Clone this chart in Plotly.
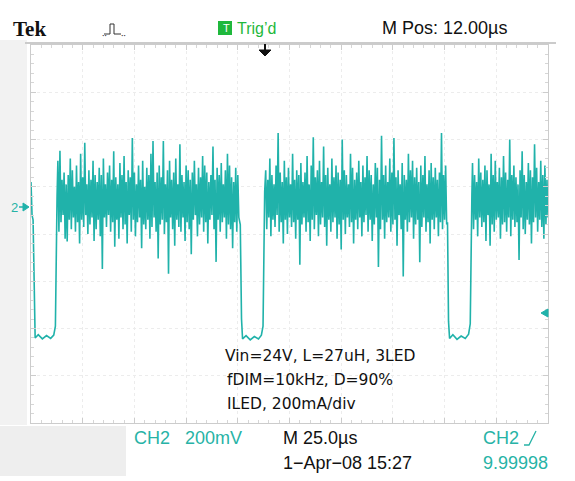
import plotly.graph_objects as go

# ---------------- figure geometry (pixels) ----------------
W, H = 575, 481
ML, MR, MT, MB = 31, 27, 45, 58
PW = W - ML - MR
PH = H - MT - MB


def px(x):
    return (x - ML) / PW


def py(y):
    return (H - MB - y) / PH


TIME_PER_DIV_US = 25.0
SAMPLE_STEP_US = 0.5
x_range_us = [0.0, 250.0]
y_range_div = [-4.0, 4.0]

# current trace in divisions (200 mA/div)
lead_t = [0.0, 0.5]
lead_v = [1.10, 0.40]

off1_t = [1.0, 1.6, 2.0, 3.5, 5.5, 7.5, 9.5, 11.0, 11.8, 12.6]
off1_v = [0.30, -1.85, -2.20, -2.13, -2.22, -2.15, -2.21, -2.14, -1.95, 0.80]

off2_t = [101.2, 101.8, 102.3, 104.0, 106.0, 108.0, 110.0, 111.4, 112.2, 113.0]
off2_v = [0.20, -1.80, -2.22, -2.15, -2.24, -2.17, -2.22, -2.14, -1.95, 0.90]

off3_t = [201.4, 201.9, 202.4, 204.0, 206.0, 208.0, 210.0, 211.6, 212.4, 213.2]
off3_v = [0.25, -1.85, -2.21, -2.13, -2.23, -2.16, -2.21, -2.12, -1.90, 0.85]

burst_start_us = [13.0, 113.5, 213.5]

burst1 = [
    1.55, 0.05, 1.76, 0.25, 1.15, 0.40, 1.30, -0.10, 1.05, -0.16,
    1.25, 0.30, 1.60, 0.10, 1.35, 0.35, 1.00, 0.05, 1.45, 0.25,
    1.10, -0.20, 1.70, 0.30, 1.20, 0.15, 1.93, 0.40, 1.05, 0.00,
    1.35, 0.20, 1.15, 0.35, 1.55, -0.15, 1.25, 0.10, 1.10, 0.30,
    1.40, -0.05, 1.25, -0.74, 1.60, 0.35, 1.05, 0.15, 1.30, 0.40,
    1.45, 0.05, 1.15, 0.25, 1.75, -0.27, 1.20, 0.30, 1.05, -0.10,
    1.50, 0.35, 1.25, 0.10, 1.65, 0.20, 1.10, -0.20, 1.35, 0.40,
    1.20, 0.05, 2.03, 0.30, 1.30, -0.05, 1.05, 0.25, 1.45, 0.35,
    1.15, -0.30, 1.55, 0.20, 1.00, 0.10, 1.40, 0.30, 1.25, -0.10,
    1.70, 0.15, 1.97, 0.35, 1.10, 0.05, 1.30, -0.52, 1.45, 0.20,
    1.20, 0.30, 1.97, 0.00, 1.05, 0.25, 1.35, -0.84, 1.55, 0.35,
    1.15, 0.10, 1.30, -0.25, 1.60, 0.30, 1.05, 0.15, 1.90, 0.05,
    1.25, 0.35, 1.10, -0.15, 1.45, 0.25, 1.35, 0.10, 1.15, -0.43,
    1.30, 0.30, 1.55, 0.40, 1.05, -0.05, 1.40, 0.20, 1.20, 0.35,
    1.65, 0.05, 1.45, 0.25, 1.30, -0.20, 1.10, 0.30, 1.25, 0.40,
    1.85, 0.10, 1.15, -0.59, 1.40, 0.30, 1.25, 0.05, 1.50, 0.25,
    1.05, 0.35, 1.35, -0.10, 1.70, 0.20, 1.45, 0.10, 1.20, -0.30,
    1.10, 0.25, 1.40, 0.05, 1.25, 0.35,
]

burst2 = [
    1.35, 0.10, 1.15, 0.35, 1.60, -0.05, 1.25, 0.30, 1.05, 0.15,
    1.45, 0.40, 2.14, 0.05, 1.30, 0.25, 1.10, -0.20, 1.55, 0.30,
    1.20, 0.00, 1.40, 0.35, 1.05, 0.15, 1.70, 0.25, 1.15, -0.10,
    1.35, 0.30, 1.25, -0.65, 1.50, 0.20, 1.10, 0.35, 1.30, 0.05,
    1.65, 0.25, 1.05, -0.15, 1.45, 0.30, 2.05, 0.10, 1.20, 0.40,
    1.35, -0.05, 1.55, 0.20, 1.10, 0.35, 1.85, 0.15, 1.25, -0.25,
    1.40, 0.30, 1.05, 0.05, 1.60, 0.25, 1.20, 0.35, 1.45, -0.10,
    1.30, 0.20, 1.15, -0.33, 2.00, 0.30, 1.35, 0.00, 1.25, 0.35,
    1.05, 0.15, 1.70, 0.25, 1.40, -0.20, 1.15, 0.30, 1.30, 0.10,
    1.55, 0.35, 1.10, -0.05, 1.45, 0.25, 1.20, 0.40, 1.65, 0.05,
    1.35, 0.30, 1.25, -0.15, 1.05, 0.20, 1.50, 0.35, 1.40, -0.70,
    1.15, 0.10, 2.08, 0.30, 1.25, -0.10, 1.45, 0.25, 1.10, 0.35,
    1.60, 0.05, 1.30, 0.20, 2.03, 0.30, 1.20, -0.25, 1.35, 0.40,
    1.05, 0.10, 1.50, -0.90, 1.25, 0.30, 1.15, 0.05, 1.70, 0.25,
    1.35, 0.35, 1.55, -0.10, 1.20, 0.20, 1.40, 0.30, 1.10, -0.60,
    1.45, 0.15, 1.25, 0.35, 1.65, 0.05, 1.05, 0.25, 1.35, -0.20,
    1.50, 0.30, 1.20, 0.10, 1.40, 0.35, 1.15, -0.05, 1.30, 0.25,
    2.14, 0.10, 1.25, 0.30, 1.45, 0.20,
]

burst3 = [
    1.50, 0.10, 1.25, 0.30, 1.10, -0.05, 1.60, 0.35, 1.30, 0.15,
    1.15, 0.25, 1.45, -0.15, 1.35, 0.40, 1.05, -0.25, 1.70, 0.20,
    1.25, 0.05, 1.55, 0.30, 1.10, 0.35, 1.40, -0.10, 1.20, 0.20,
    1.65, 0.25, 1.30, 0.05, 1.15, 0.35, 2.00, -0.05, 1.25, 0.30,
    1.45, 0.15, 1.20, 0.25, 1.05, -0.55, 1.35, 0.35, 1.75, 0.10,
    1.25, 0.00, 1.10, 0.30, 1.50, 0.20, 1.35, -0.20, 1.20, 0.25,
    1.90, 0.35, 1.40, 0.05, 1.10, 0.30, 1.55, 0.15, 1.25, -0.10,
    1.45, 0.20, 1.15, 0.35,
]

# text
header_left = "Tek"
trig_text = "Trig\u2019d"
mpos_text = "M Pos: 12.00\u00b5s"
note_lines = ["Vin=24V, L=27uH, 3LED", "fDIM=10kHz, D=90%", "ILED, 200mA/div"]
ch_scale_text = "CH2\u00a0\u00a0\u00a0200mV"
timebase_text = "M 25.0\u00b5s"
trig_src_text = "CH2"
date_text = "1\u2212Apr\u221208 15:27"
freq_text = "9.99998"

TEAL = "#20b2aa"
TEAL_TXT = "#27b3a6"
GREEN = "#1fb83c"
SCOPE_FONT = "Liberation Sans, Arial, sans-serif"
NOTE_FONT = "DejaVu Sans, Verdana, sans-serif"


def burst_times(start, values):
    return [start + i * SAMPLE_STEP_US for i in range(len(values))]


t_all = (lead_t + off1_t + burst_times(burst_start_us[0], burst1)
         + off2_t + burst_times(burst_start_us[1], burst2)
         + off3_t + burst_times(burst_start_us[2], burst3))
v_all = lead_v + off1_v + burst1 + off2_v + burst2 + off3_v + burst3

fig = go.Figure()
fig.add_trace(go.Scatter(
    x=t_all, y=v_all, mode="lines",
    line=dict(color=TEAL, width=1.6),
    hoverinfo="skip", showlegend=False,
))

axis_common = dict(
    showticklabels=False, zeroline=False, showgrid=True,
    gridcolor="#ececec", griddash="dot", gridwidth=1,
    showline=True, linecolor="#cccccc", linewidth=1, mirror="ticks",
    ticks="inside", ticklen=5, tickcolor="#cccccc",
    fixedrange=True,
)
fig.update_xaxes(range=x_range_us, dtick=TIME_PER_DIV_US, tick0=0,
                 minor=dict(ticks="inside", dtick=TIME_PER_DIV_US / 5,
                            ticklen=3, tickcolor="#d6d6d6", showgrid=False),
                 **axis_common)
fig.update_yaxes(range=y_range_div, dtick=1, tick0=0,
                 minor=dict(ticks="inside", dtick=0.2, ticklen=3,
                            tickcolor="#d6d6d6", showgrid=False),
                 **axis_common)

shapes = []
# light grey surround of the screen photo
shapes.append(dict(type="rect", xref="paper", yref="paper",
                   x0=px(0), x1=px(27), y0=py(425), y1=py(40),
                   fillcolor="#f2f2f2", line_width=0, layer="below"))
shapes.append(dict(type="rect", xref="paper", yref="paper",
                   x0=px(0), x1=px(126), y0=py(476), y1=py(426),
                   fillcolor="#eeeeee", line_width=0, layer="below"))
# header underline
shapes.append(dict(type="line", xref="paper", yref="paper",
                   x0=px(25), x1=px(556), y0=py(43), y1=py(43),
                   line=dict(color="#cbcbcb", width=2)))
# pulse icon
shapes.append(dict(type="path", xref="paper", yref="paper",
                   path=(f"M {px(104)},{py(34)} L {px(110)},{py(34)} L {px(110)},{py(24)} "
                         f"L {px(114)},{py(24)} L {px(114)},{py(34)} L {px(121)},{py(34)}"),
                   line=dict(color="#333333", width=1)))
# green trigger box
shapes.append(dict(type="rect", xref="paper", yref="paper",
                   x0=px(218), x1=px(232), y0=py(35), y1=py(21),
                   fillcolor=GREEN, line_width=0))
# trigger position arrow
shapes.append(dict(type="path", xref="paper", yref="paper",
                   path=(f"M {px(259)},{py(50)} L {px(271)},{py(50)} L {px(265)},{py(56)} Z"),
                   fillcolor="#111111", line=dict(color="#111111", width=1)))
shapes.append(dict(type="line", xref="paper", yref="paper",
                   x0=px(265), x1=px(265), y0=py(44), y1=py(52),
                   line=dict(color="#111111", width=2)))
# ground marker arrow (left) and trigger level arrow (right)
shapes.append(dict(type="path", xref="paper", yref="paper",
                   path=f"M {px(23)},{py(203)} L {px(29)},{py(207)} L {px(23)},{py(211)} Z",
                   fillcolor=TEAL, line=dict(color=TEAL, width=1)))
shapes.append(dict(type="line", xref="paper", yref="paper",
                   x0=px(19), x1=px(26), y0=py(207), y1=py(207),
                   line=dict(color=TEAL, width=1.5)))
shapes.append(dict(type="path", xref="paper", yref="paper",
                   path=f"M {px(548)},{py(309)} L {px(541)},{py(313)} L {px(548)},{py(317)} Z",
                   fillcolor=TEAL, line=dict(color=TEAL, width=1)))
# rising-edge icon next to trigger source
shapes.append(dict(type="path", xref="paper", yref="paper",
                   path=f"M {px(524)},{py(445)} L {px(529)},{py(445)} L {px(536)},{py(431)}",
                   line=dict(color=TEAL_TXT, width=1.3)))
fig.update_layout(shapes=shapes)

ann = []


def text(x, y, s, size, color="#111111", family=SCOPE_FONT, xanchor="left"):
    ann.append(dict(x=px(x), y=py(y), xref="paper", yref="paper", text=s,
                    showarrow=False, xanchor=xanchor, yanchor="middle",
                    font=dict(size=size, color=color, family=family)))


text(11, 29, f"<b>{header_left}</b>", 21, "#111111",
     "Liberation Serif, DejaVu Serif, serif")
text(100, 33, "\u2025", 9, "#333333")
text(119, 33, "\u2025", 9, "#333333")
text(220.5, 28, "T", 11, "#ffffff", "Liberation Sans, sans-serif")
text(235, 28, trig_text, 16, GREEN)
text(380, 28, mpos_text, 18, "#111111")
text(9, 208, "2", 13, TEAL_TXT)
text(223, 356, note_lines[0], 15.5, "#111111", NOTE_FONT)
text(225, 380, note_lines[1], 15.5, "#111111", NOTE_FONT)
text(225, 404, note_lines[2], 15.5, "#111111", NOTE_FONT)
text(132, 438, ch_scale_text, 18, TEAL_TXT)
text(281, 438, timebase_text, 18, "#111111")
text(481, 438, trig_src_text, 18, TEAL_TXT)
text(281, 463, date_text, 18, "#111111")
text(481, 463, freq_text, 18, TEAL_TXT)

fig.update_layout(
    annotations=ann,
    width=W, height=H,
    margin=dict(l=ML, r=MR, t=MT, b=MB, pad=0),
    paper_bgcolor="#ffffff", plot_bgcolor="#ffffff",
    showlegend=False,
)

fig.write_html("out.html", config={"displayModeBar": False},
               post_script="document.body.style.margin='0';")
